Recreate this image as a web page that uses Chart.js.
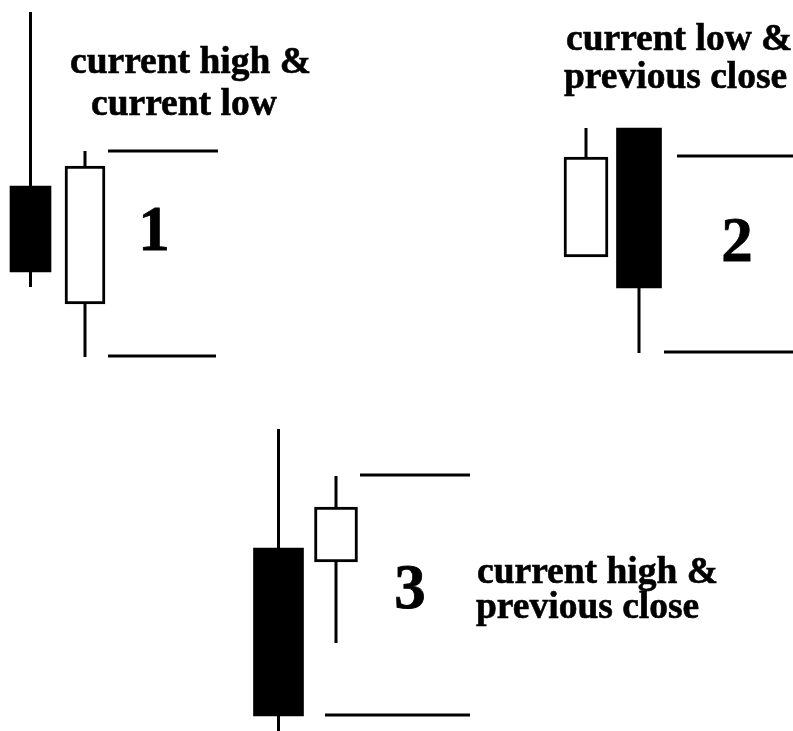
<!DOCTYPE html>
<html>
<head>
<meta charset="utf-8">
<script src="https://cdn.jsdelivr.net/npm/chart.js@4/dist/chart.umd.min.js"></script>
<style>
    body { margin: 0; background: #ffffff; }
    canvas { display: block; }
</style>
</head>
<body>
<canvas id="chartTrueRange" width="793" height="731"></canvas>
<script>
// previous candle, then current candle, for each of the 3 cases
var candlePos   = [30.5, 85, 586, 639, 278.5, 336];
var candleOpen  = [545, 427, 474, 603, 183, 169];
var candleClose = [459, 565, 574, 443, 15, 224];
var candleHigh  = [719, 580, 603, 603, 302, 255];
var candleLow   = [444, 374, 474, 378, -20, 88];

// range levels marked beside each case
var levelValue = [580, 375, 575, 379, 256, 16];
var levelFrom  = [108, 108, 677, 664, 360, 325];
var levelTo    = [218, 216, 793, 793, 470, 470];

// case numbers
var caseNames = ["1", "2", "3"];
var casePos   = [154, 737, 410];
var caseValue = [497, 486, 139];

// captions
var captionTexts = ["current high &", "current low", "current low &", "previous close", "current high &", "previous close"];
var captionPos   = [70, 91, 566, 564, 477, 476];
var captionValue = [658, 616, 681, 643, 148, 113];

var bodyWidths = [41, 40, 44, 45, 50, 43];

var datasets = [];

for (let i = 0; i < candlePos.length; i++) {
    let bearish = candleClose[i] < candleOpen[i];
    datasets.push({
        type: "bar",
        data: [{ x: candlePos[i], y: [candleOpen[i], candleClose[i]] }],
        backgroundColor: bearish ? "#000000" : "#ffffff",
        borderColor: "#000000",
        borderWidth: bearish ? 0 : 3,
        borderSkipped: false,
        barThickness: bodyWidths[i],
        grouped: false,
        order: 0
    });
}

var wickPoints = [];
for (let i = 0; i < candlePos.length; i++) {
    wickPoints.push({ x: candlePos[i], y: candleHigh[i] });
    wickPoints.push({ x: candlePos[i], y: candleLow[i] });
    wickPoints.push({ x: candlePos[i], y: null });
}
datasets.push({
    type: "line",
    data: wickPoints,
    borderColor: "#000000",
    borderWidth: 3,
    pointRadius: 0,
    spanGaps: false,
    order: 1
});

var levelPoints = [];
for (let i = 0; i < levelValue.length; i++) {
    levelPoints.push({ x: levelFrom[i], y: levelValue[i] });
    levelPoints.push({ x: levelTo[i], y: levelValue[i] });
    levelPoints.push({ x: levelTo[i], y: null });
}
datasets.push({
    type: "line",
    data: levelPoints,
    borderColor: "#000000",
    borderWidth: 3,
    pointRadius: 0,
    spanGaps: false,
    order: 1
});

var textPlugin = {
    id: "textos",
    afterDatasetsDraw: function (chart) {
        var ctx = chart.ctx;
        var sx = chart.scales.x;
        var sy = chart.scales.y;
        ctx.save();
        ctx.fillStyle = "#000000";
        ctx.strokeStyle = "#000000";
        ctx.lineWidth = 0.8;

        ctx.font = "bold 63px 'Liberation Serif', 'Times New Roman', serif";
        ctx.textAlign = "center";
        ctx.textBaseline = "middle";
        for (let i = 0; i < caseNames.length; i++) {
            let px = sx.getPixelForValue(casePos[i]);
            let py = sy.getPixelForValue(caseValue[i]);
            ctx.fillText(caseNames[i], px, py);
            ctx.strokeText(caseNames[i], px, py);
        }

        ctx.font = "bold 37.5px 'Liberation Serif', 'Times New Roman', serif";
        ctx.textAlign = "left";
        ctx.textBaseline = "alphabetic";
        ctx.lineWidth = 0.6;
        for (let i = 0; i < captionTexts.length; i++) {
            let px = sx.getPixelForValue(captionPos[i]);
            let py = sy.getPixelForValue(captionValue[i]);
            ctx.fillText(captionTexts[i], px, py);
            ctx.strokeText(captionTexts[i], px, py);
        }
        ctx.restore();
    }
};

var ctx = document.getElementById("chartTrueRange");

var chart = new Chart(ctx, {
    type: "bar",
    data: { datasets: datasets },
    options: {
        responsive: false,
        animation: false,
        layout: { padding: 0 },
        plugins: {
            legend: { display: false },
            tooltip: { enabled: false }
        },
        scales: {
            x: { type: "linear", min: 0, max: 793, offset: false, display: false },
            y: { type: "linear", min: 0, max: 731, display: false }
        }
    },
    plugins: [textPlugin]
});
</script>
</body>
</html>
